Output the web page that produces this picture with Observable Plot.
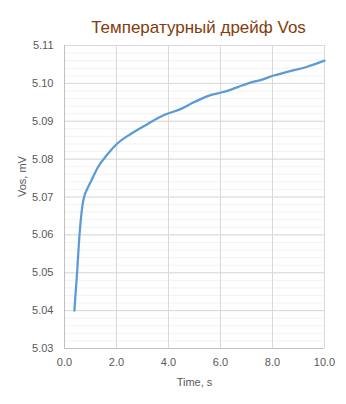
<!DOCTYPE html>
<html>
<head>
<meta charset="utf-8">
<script src="https://cdn.jsdelivr.net/npm/d3@7"></script>
<script src="https://cdn.jsdelivr.net/npm/@observablehq/plot@0.6"></script>
<style>
  html, body { margin: 0; padding: 0; background: #fff; }
  svg { display: block; }
</style>
</head>
<body>
<div id="chart"></div>
<script>
const title = "Температурный дрейф Vos";
const xLabel = "Time, s";
const yLabel = "Vos, mV";

const time = [0.38, 0.49, 0.58, 0.70, 0.77, 0.86, 1.03, 1.28, 1.67, 2.01, 2.56, 3.2, 3.85, 4.46, 4.97, 5.62, 6.03, 6.38, 6.77, 7.15, 7.6, 8.01, 8.6, 9.33, 10.0];
const vos  = [5.0400, 5.0506, 5.0603, 5.0682, 5.0704, 5.0719, 5.0743, 5.0778, 5.0814, 5.0840, 5.0867, 5.0893, 5.0917, 5.0932, 5.0950, 5.0969, 5.0976, 5.0983, 5.0993, 5.1002, 5.1010, 5.1020, 5.1031, 5.1044, 5.1060];

const xTicks = [0, 2, 4, 6, 8, 10];
const yTicks = [5.03, 5.04, 5.05, 5.06, 5.07, 5.08, 5.09, 5.10, 5.11];
const yMinor = d3.ticks(5.03, 5.11, 40);

const data = time.map((t, i) => ({t, v: vos[i]}));

const font = "'Liberation Sans', Arial, sans-serif";

const chart = Plot.plot({
  width: 346,
  height: 404,
  marginLeft: 64,
  marginRight: 22,
  marginTop: 45,
  marginBottom: 56,
  style: { fontFamily: font, fontSize: "11px", color: "#595959", background: "#fff" },
  x: { domain: [0, 10] },
  y: { domain: [5.03, 5.11] },
  marks: [
    Plot.ruleY(yMinor, { stroke: "#f2f2f2", strokeWidth: 1 }),
    Plot.ruleY(yTicks, { stroke: "#d9d9d9", strokeWidth: 1 }),
    Plot.ruleX(xTicks, { stroke: "#d9d9d9", strokeWidth: 1 }),
    Plot.ruleX([0], { stroke: "#bfbfbf", strokeWidth: 1 }),
    Plot.ruleY([5.03], { stroke: "#bfbfbf", strokeWidth: 1 }),
    Plot.axisY({ ticks: yTicks, tickSize: 0, tickPadding: 11, tickFormat: d3.format(".2f"), label: null, fill: "#595959" }),
    Plot.axisX({ ticks: xTicks, tickSize: 0, tickPadding: 10, tickFormat: d3.format(".1f"), label: null, fill: "#595959" }),
    Plot.line(data, { x: "t", y: "v", stroke: "#5b9bd5", strokeWidth: 2.25, curve: "monotone-x" }),
    Plot.text([yLabel], { frameAnchor: "left", dx: -42, rotate: -90, fill: "#595959", fontSize: 11 }),
    Plot.text([xLabel], { frameAnchor: "bottom", dy: 37, fill: "#595959", fontSize: 11 }),
    Plot.text([title], { frameAnchor: "top", dy: -25, dx: 4, fill: "#843c0c", fontSize: 17 })
  ]
});
document.getElementById("chart").appendChild(chart);
</script>
</body>
</html>
